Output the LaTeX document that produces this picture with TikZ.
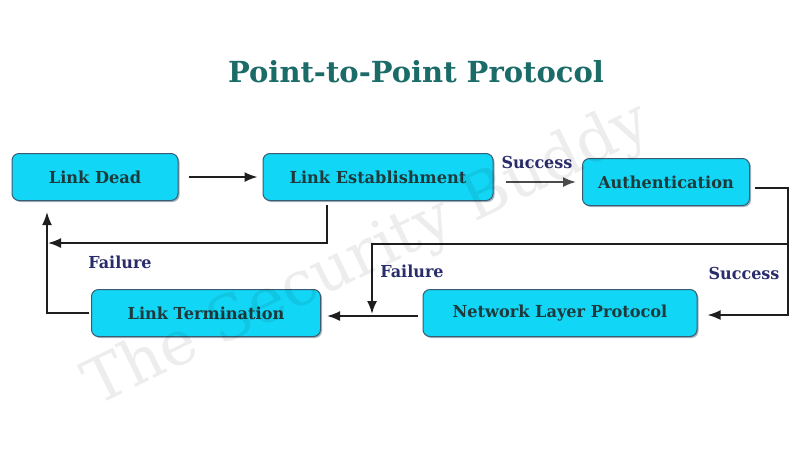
\documentclass[tikz,border=0pt]{standalone}
\usepackage{fontspec}
\setmainfont{DejaVu Serif}
\newfontfamily\boxfont[FakeStretch=0.98]{DejaVu Serif}
\newfontfamily\lblfont[FakeStretch=0.97]{DejaVu Serif}
\usetikzlibrary{arrows.meta,shadows}
\definecolor{boxfill}{HTML}{12D6F5}
\definecolor{boxline}{HTML}{3A5C72}
\definecolor{boxtext}{HTML}{1E3A3C}
\definecolor{titlecol}{HTML}{1B6B68}
\definecolor{lblcol}{HTML}{2A2D6B}
\definecolor{linecol}{HTML}{1E1E1E}
\tikzset{
  stbox/.style={draw=boxline, fill=boxfill, rounded corners=7pt, line width=1pt,
    minimum height=47pt, inner sep=0pt, text=boxtext, font=\boxfont\bfseries\fontsize{16.5}{18}\selectfont,
    drop shadow={shadow xshift=1.5pt, shadow yshift=-1.5pt, opacity=0.45, fill=boxline}},
  conn/.style={draw=linecol, line width=1.8pt},
  arr/.style={conn, -{Latex[length=13pt,width=10pt]}},
  lbl/.style={text=lblcol, font=\lblfont\bfseries\fontsize{16.5}{18}\selectfont, inner sep=0pt},
}
\begin{document}
\begin{tikzpicture}[x=1pt,y=-1pt]
\useasboundingbox (0,0) rectangle (800,448);
\fill[white] (0,0) rectangle (800,448);

\node[text=titlecol, font=\bfseries\fontsize{29}{33}\selectfont] (title) at (416,72) {Point-to-Point Protocol};

\node[stbox, minimum width=166pt] (dead) at (95,177) {Link Dead};
\node[stbox, minimum width=230pt] (est)  at (378,177) {Link Establishment};
\node[stbox, minimum width=167pt] (auth) at (666,182) {Authentication};
\node[stbox, minimum width=229pt] (lt)   at (206,313) {Link Termination};
\node[stbox, minimum width=274pt] (nlp)  at (560,313) {Network Layer Protocol};

\coordinate (rc) at (788,244);
\coordinate (rt) at (788,188);
\coordinate (fd) at (372,244);
\coordinate (fe) at (372,314);
\coordinate (fl) at (48,243);
\coordinate (lc) at (47,313);

% Link Dead -> Link Establishment
\draw[arr] ([xshift=10pt]dead.east) -- ([xshift=-5pt]est.west);
% Success: Establishment -> Authentication
\draw[arr, draw=linecol!80] ([xshift=12pt]est.east |- auth.west) -- ([xshift=-6pt]auth.west);
\node[lbl] (s1) at (537,162) {Success};
% Authentication -> Network Layer Protocol
\draw[arr] ([xshift=5pt,yshift=-6pt]auth.east) -- (rt) |- ([xshift=10pt,yshift=-2pt]nlp.east);
\node[lbl] (s2) at (744,273) {Success};
% Authentication failure -> Link Termination
\draw[arr] (rc) -- (fd) -- (fe);
\node[lbl] (f2) at (412,271) {Failure};
% Link Establishment failure -> Link Dead
\draw[arr] ([xshift=-51pt,yshift=-4pt]est.south) |- (fl);
\node[lbl] (f1) at (120,262) {Failure};
% Network Layer Protocol -> Link Termination
\draw[arr] ([xshift=-5pt,yshift=-3pt]nlp.west) -- ([xshift=6pt,yshift=-3pt]lt.east);
% Link Termination -> Link Dead
\draw[arr] ([xshift=-2pt]lt.west) -- (lc) -- ([xshift=-48pt,yshift=-11pt]dead.south);

% watermark
\node[rotate=26, text=black, opacity=0.07, font=\fontsize{62}{70}\selectfont] (wm) at (368,256) {The Security Buddy};
\end{tikzpicture}
\end{document}
